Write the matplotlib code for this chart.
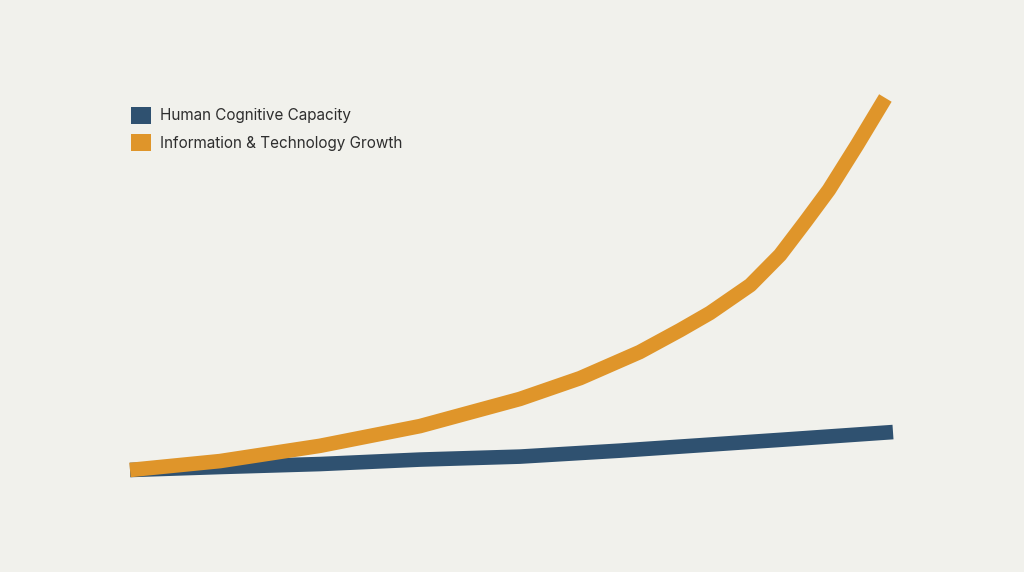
import matplotlib
matplotlib.use("Agg")
import matplotlib.pyplot as plt
from matplotlib.patches import Patch

# time steps (arbitrary units) and relative growth
tech_time = [0, 1.18, 2.49, 3.80, 5.11, 5.90, 6.68, 7.21, 7.60, 8.13, 8.52,
             8.85, 9.16, 9.53, 9.90]
tech_growth = [0, 2.4, 6.5, 11.8, 19.1, 24.7, 31.7, 37.6, 42.2, 49.7, 57.8,
               66.7, 75.3, 87.4, 100]
human_time = [0, 1.18, 2.49, 3.80, 5.11, 6.42, 8.52, 10]
human_capacity = [0, 0.8, 1.6, 2.8, 3.6, 5.2, 8.1, 10.2]

labels = ["Human Cognitive Capacity", "Information & Technology Growth"]
BLUE = "#2f5170"
ORANGE = "#df952a"
BG = "#f1f1ec"

plt.rcParams["font.family"] = ["Inter", "DejaVu Sans"]

fig = plt.figure(figsize=(10.24, 5.72), dpi=100, facecolor=BG)
ax = fig.add_axes([130 / 1024, 102 / 572, 763 / 1024, 372 / 572])
ax.set_facecolor(BG)

ax.plot(human_time, human_capacity, color=BLUE, lw=10.5, solid_capstyle="butt",
        solid_joinstyle="round", clip_on=False, zorder=2)
ax.plot(tech_time, tech_growth, color=ORANGE, lw=10.5, solid_capstyle="butt",
        solid_joinstyle="round", clip_on=False, zorder=3)

ax.set_xlim(0, 10)
ax.set_ylim(0, 100)
ax.axis("off")

handles = [Patch(facecolor=BLUE, linewidth=0), Patch(facecolor=ORANGE, linewidth=0)]
fig.legend(handles, labels, loc="upper left", bbox_to_anchor=(131 / 1024, 1 - 107 / 572),
           frameon=False, fontsize=11, handlelength=1.3, handleheight=1.3,
           handletextpad=0.62, labelspacing=0.7, borderpad=0, borderaxespad=0,
           labelcolor="#2e2e2e")

fig.savefig("out.png", dpi=100, facecolor=BG)
